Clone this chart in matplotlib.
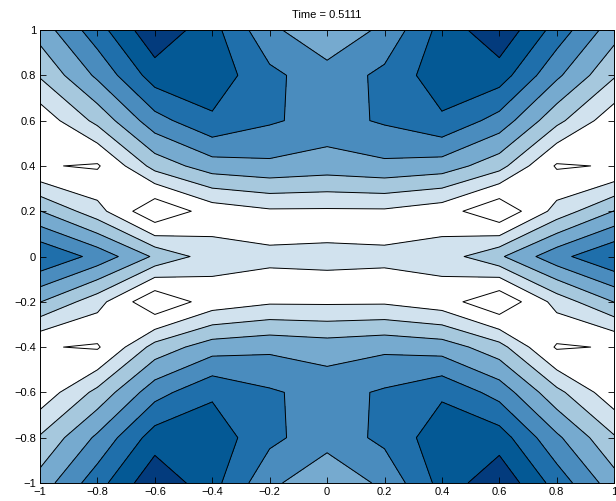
import numpy as np
import matplotlib.pyplot as plt

plt.rcParams['font.family'] = ['Liberation Sans', 'DejaVu Sans']

# grid of the solution at t = 0.5111 (11 x 11 nodes on [-1, 1]^2)
x = [-1.0, -0.8, -0.6, -0.4, -0.2, 0.0, 0.2, 0.4, 0.6, 0.8, 1.0]
y = [-1.0, -0.8, -0.6, -0.4, -0.2, 0.0, 0.2, 0.4, 0.6, 0.8, 1.0]

# rows go from y = -1 (bottom) to y = 1 (top)
u = [
    [3.44, 5.59, 7.78, 6.35, 4.23, 3.20, 4.23, 6.35, 7.78, 5.59, 3.44],
    [2.11, 4.20, 6.50, 6.60, 5.25, 4.40, 5.25, 6.60, 6.50, 4.20, 2.11],
    [0.32, 2.29, 4.61, 5.84, 5.13, 4.62, 5.13, 5.84, 4.61, 2.29, 0.32],
    [-0.08, -0.30, 2.39, 3.54, 3.78, 3.54, 3.78, 3.54, 2.39, -0.30, -0.08],
    [3.03, 1.41, -1.16, 0.40, 0.85, 0.84, 0.85, 0.40, -1.16, 1.41, 3.03],
    [5.96, 4.66, 2.84, 1.47, 1.05, 1.07, 1.05, 1.47, 2.84, 4.66, 5.96],
    [3.03, 1.41, -1.16, 0.40, 0.85, 0.84, 0.85, 0.40, -1.16, 1.41, 3.03],
    [-0.08, -0.30, 2.39, 3.54, 3.78, 3.54, 3.78, 3.54, 2.39, -0.30, -0.08],
    [0.32, 2.29, 4.61, 5.84, 5.13, 4.62, 5.13, 5.84, 4.61, 2.29, 0.32],
    [2.11, 4.20, 6.50, 6.60, 5.25, 4.40, 5.25, 6.60, 6.50, 4.20, 2.11],
    [3.44, 5.59, 7.78, 6.35, 4.23, 3.20, 4.23, 6.35, 7.78, 5.59, 3.44],
]

levels = [-0.17, 1, 2, 3, 4, 5, 6, 7]
band_colors = ['#ffffff', '#ffffff', '#d1e2ee', '#a6c8dd', '#76aacf',
               '#4a8cbe', '#1f6fab', '#045995', '#033b7d']

X, Y = np.meshgrid(x, y)
Z = np.array(u)

fig = plt.figure(figsize=(6.16, 5.01), dpi=100)
ax = fig.add_axes([0.065, 0.036, 0.932, 0.904])

fill_levels = [Z.min() - 1] + levels + [Z.max() + 1]
ax.contourf(X, Y, Z, levels=fill_levels, colors=band_colors)
ax.contour(X, Y, Z, levels=levels, colors='k', linewidths=0.7,
           linestyles='solid')

ax.set_xlim(-1, 1)
ax.set_ylim(-1, 1)
ax.set_xticks(np.arange(-1, 1.01, 0.2))
ax.set_yticks(np.arange(-1, 1.01, 0.2))
ax.set_xticklabels(['\u22121', '\u22120.8', '\u22120.6', '\u22120.4', '\u22120.2',
                    '0', '0.2', '0.4', '0.6', '0.8', '1'])
ax.set_yticklabels(['\u22121', '\u22120.8', '\u22120.6', '\u22120.4', '\u22120.2',
                    '0', '0.2', '0.4', '0.6', '0.8', '1'])
ax.tick_params(direction='in', length=4, width=0.6, labelsize=8,
               top=True, right=True, pad=3)
for s in ax.spines.values():
    s.set_linewidth(0.7)

ax.set_title('Time = 0.5111', fontsize=8, pad=9)

fig.savefig('out.png', dpi=100)
